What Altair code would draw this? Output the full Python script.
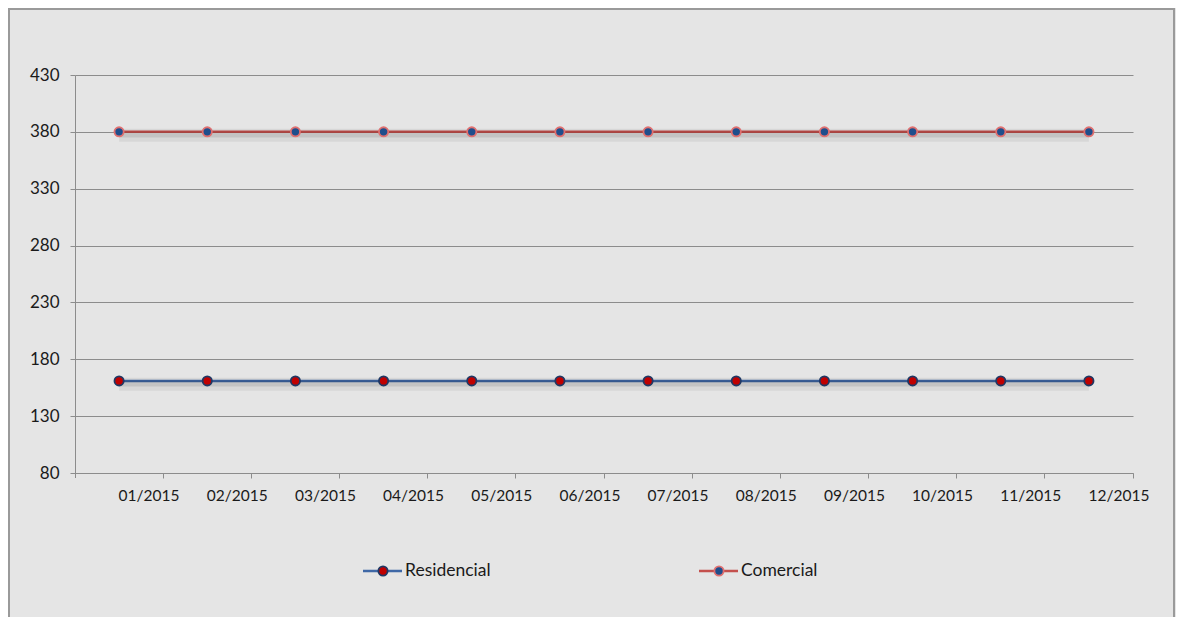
import altair as alt
import pandas as pd

# ---- data ----
months = ["01/2015", "02/2015", "03/2015", "04/2015", "05/2015", "06/2015",
          "07/2015", "08/2015", "09/2015", "10/2015", "11/2015", "12/2015"]
residencial = [161, 161, 161, 161, 161, 161, 161, 161, 161, 161, 161, 161]
comercial = [380, 380, 380, 380, 380, 380, 380, 380, 380, 380, 380, 380]
series_names = ["Residencial", "Comercial"]
y_ticks = [80, 130, 180, 230, 280, 330, 380, 430]

df = pd.DataFrame({
    "mes": months + months,
    "valor": residencial + comercial,
    "serie": [series_names[0]] * len(months) + [series_names[1]] * len(months),
})

W, H = 1058, 398
FONT = "Lato"
TXT = "#1a1a1a"
AX = "#8c8c8c"
line_colors = ["#3f68a6", "#c4504d"]
fill_colors = ["#c00000", "#1f4e8c"]
stroke_colors = ["#1f3864", "#e07070"]

x_enc = alt.X(
    "mes:N", sort=months,
    scale=alt.Scale(type="band", paddingInner=0, paddingOuter=0),
    axis=alt.Axis(title=None, bandPosition=1, labelOffset=30, labelAngle=0,
                  tickSize=5, tickColor=AX, domainColor=AX, grid=False,
                  labelFont=FONT, labelFontSize=15.5, labelColor=TXT,
                  labelPadding=10, labelAlign="center"),
)
y_scale = alt.Scale(domain=[80, 430], nice=False, zero=False)
y_axis = alt.Axis(title=None, values=y_ticks, grid=True, gridColor=AX,
                  gridWidth=1, tickSize=5, tickColor=AX, domainColor=AX,
                  labelFont=FONT, labelFontSize=17, labelColor=TXT,
                  labelPadding=11)
y_enc = alt.Y("valor:Q", scale=y_scale, axis=y_axis)

base = alt.Chart(df)

lines = base.mark_line(strokeWidth=2.5).encode(
    x=x_enc, y=y_enc,
    color=alt.Color("serie:N", scale=alt.Scale(domain=series_names, range=line_colors), legend=None),
)
points = base.mark_point(filled=False, size=85, strokeWidth=1.8, opacity=1).encode(
    x=x_enc, y=y_enc,
    fill=alt.Fill("serie:N", scale=alt.Scale(domain=series_names, range=fill_colors), legend=None),
    stroke=alt.Stroke("serie:N", scale=alt.Scale(domain=series_names, range=stroke_colors), legend=None),
)
shadow1 = base.transform_calculate(valor2="datum.valor - 3").mark_line(
    color="black", strokeWidth=13, opacity=0.06
).encode(x=x_enc, y=alt.Y("valor2:Q", scale=y_scale, axis=y_axis), detail="serie:N")
shadow2 = base.transform_calculate(valor2="datum.valor - 2.4").mark_line(
    color="black", strokeWidth=6, opacity=0.09
).encode(x=x_enc, y=alt.Y("valor2:Q", scale=y_scale, axis=y_axis), detail="serie:N")

one = pd.DataFrame({"k": [0]})
# frame around the whole chart
frame = alt.Chart(one).mark_rect(
    fill="transparent", stroke="#9a9a9a", strokeWidth=2
).encode(x=alt.value(-66), x2=alt.value(W + 41), y=alt.value(-66), y2=alt.value(H + 200))
# first x tick below the origin
first_tick = alt.Chart(one).mark_rule(color=AX, strokeWidth=1).encode(
    x=alt.value(0.5), y=alt.value(H), y2=alt.value(H + 5))

# manual legend
legend_layers = []
legend_x = [288, 624]
LY = 496
for i, name in enumerate(series_names):
    d = alt.Chart(pd.DataFrame({"serie": [name]}))
    x0 = legend_x[i]
    legend_layers.append(d.mark_rule(color=line_colors[i], strokeWidth=2.5).encode(
        x=alt.value(x0), x2=alt.value(x0 + 39), y=alt.value(LY)))
    legend_layers.append(d.mark_point(filled=False, size=85, strokeWidth=1.8, opacity=1,
                                      fill=fill_colors[i], stroke=stroke_colors[i]).encode(
        x=alt.value(x0 + 20), y=alt.value(LY)))
    legend_layers.append(d.mark_text(align="left", baseline="middle", font=FONT,
                                     fontSize=17.5, color=TXT).encode(
        x=alt.value(x0 + 42), y=alt.value(LY), text="serie:N"))

chart = alt.layer(lines, shadow1, shadow2, points, frame, first_tick, *legend_layers).resolve_scale(
    color="independent", fill="independent", stroke="independent"
).properties(
    width=W, height=H,
    padding={"left": 67, "top": 67, "right": 43, "bottom": 144},
    autosize=alt.AutoSizeParams(type="none"),
    background="#e5e5e5",
).configure_view(stroke=None)

chart.save("out.html", embed_options={"renderer": "svg", "actions": False})
